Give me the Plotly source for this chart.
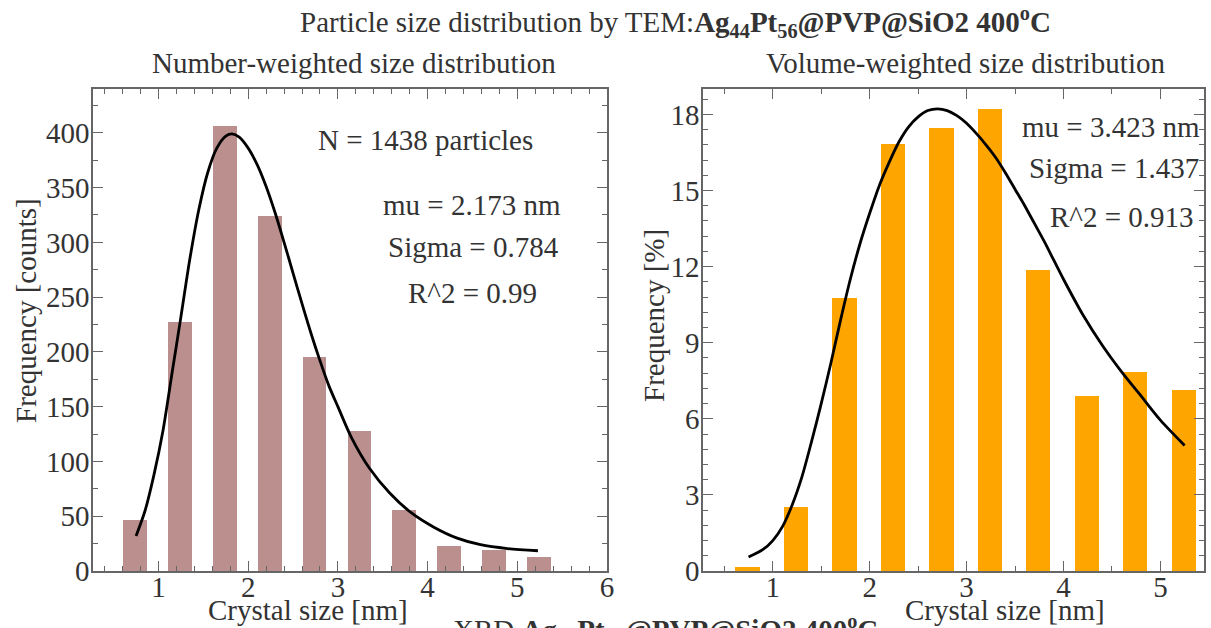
import plotly.graph_objects as go

W, H = 1211, 628

# ---------------- data ----------------
bin_centers = [0.74, 1.24, 1.74, 2.24, 2.74, 3.24, 3.74, 4.24, 4.74, 5.24]
counts = [47, 227, 406, 324, 195, 128, 56, 23, 19, 13]
volume_pct = [0.17, 2.53, 10.76, 16.82, 17.47, 18.22, 11.88, 6.9, 7.85, 7.12]

fit_num_x = [0.75, 0.85, 0.95, 1.05, 1.15, 1.25, 1.35, 1.45, 1.55, 1.65, 1.75, 1.82,
             1.90, 2.00, 2.10, 2.20, 2.30, 2.40, 2.50, 2.60, 2.70, 2.80, 2.90, 3.00,
             3.15, 3.35, 3.58, 3.82, 4.07, 4.33, 4.59, 4.89, 5.23]
fit_num_y = [32, 55, 88, 128, 180, 232, 285, 330, 364, 386, 397, 399,
             396, 386, 371, 351, 327, 300, 272, 244, 217, 192, 169, 150,
             122, 94, 71, 53, 40, 30, 24, 20.5, 18.5]

fit_vol_x = [0.75, 0.90, 1.00, 1.10, 1.20, 1.30, 1.40, 1.50, 1.60, 1.70, 1.80, 1.90,
             2.00, 2.10, 2.20, 2.30, 2.40, 2.50, 2.60, 2.70, 2.80, 2.90, 3.00, 3.10,
             3.20, 3.30, 3.40, 3.50, 3.60, 3.70, 3.80, 3.90, 4.00, 4.20, 4.40, 4.60,
             4.80, 5.00, 5.25]
fit_vol_y = [0.55, 0.85, 1.2, 1.75, 2.6, 3.7, 5.1, 6.6, 8.2, 9.9, 11.5, 12.9,
             14.1, 15.2, 16.1, 16.9, 17.5, 17.9, 18.15, 18.22, 18.15, 17.95, 17.65, 17.25,
             16.8, 16.3, 15.7, 15.05, 14.4, 13.7, 13.0, 12.25, 11.5, 10.1, 8.9, 7.85,
             6.9, 5.95, 4.95]

left_yticks = [0, 50, 100, 150, 200, 250, 300, 350, 400]
right_yticks = [0, 3, 6, 9, 12, 15, 18]
left_xticks = [1, 2, 3, 4, 5, 6]
right_xticks = [1, 2, 3, 4, 5]

FONT = "Liberation Serif"
FS = 29
TXT = "#333333"
AX = "#666666"

def px(x):
    return x / W

def py(y):
    return 1 - y / H

fig = go.Figure()
fig.add_trace(go.Bar(x=bin_centers, y=counts, width=0.265, marker=dict(color="#BC8F8F", line=dict(width=0)),
                     xaxis="x", yaxis="y", showlegend=False))
fig.add_trace(go.Scatter(x=fit_num_x, y=fit_num_y, mode="lines",
                         line=dict(color="black", width=2.8, shape="spline", smoothing=0.8),
                         xaxis="x", yaxis="y", showlegend=False))
fig.add_trace(go.Bar(x=bin_centers, y=volume_pct, width=0.25, marker=dict(color="#FFA500", line=dict(width=0)),
                     xaxis="x2", yaxis="y2", showlegend=False))
fig.add_trace(go.Scatter(x=fit_vol_x, y=fit_vol_y, mode="lines",
                         line=dict(color="black", width=2.8, shape="spline", smoothing=0.8),
                         xaxis="x2", yaxis="y2", showlegend=False))

def axis(domain, rng, tickvals, minor_dtick, anchor, standoff):
    return dict(domain=domain, range=rng, tickvals=tickvals, ticks="inside", ticklen=10, tickwidth=1.2,
                tickcolor=AX, showline=True, linecolor=AX, linewidth=1.5, mirror="ticks",
                showgrid=False, zeroline=False, anchor=anchor, ticklabelstandoff=standoff,
                automargin=False,
                tickfont=dict(family=FONT, size=FS, color=TXT),
                minor=dict(dtick=minor_dtick, ticks="inside", ticklen=5, tickcolor=AX, tickwidth=1, showgrid=False))

yb, yt = py(571), py(89)
fig.update_layout(
    width=W, height=H, margin=dict(l=0, r=0, t=0, b=0, autoexpand=False),
    paper_bgcolor="white", plot_bgcolor="white", bargap=0,
    xaxis=axis([px(93), px(607)], [0.27, 6.0], left_xticks, 0.2, "y", -11),
    yaxis=axis([yb, yt], [0, 440], left_yticks, 25, "x", -4),
    xaxis2=axis([px(703), px(1204)], [0.28, 5.45], right_xticks, 0.5, "y2", -11),
    yaxis2=axis([yb, yt], [0, 19], right_yticks, 0.6, "x2", -4),
)

ann = []
def add(text, x, y, size=FS, angle=0):
    ann.append(dict(text=text, x=px(x), y=py(y), xref="paper", yref="paper", showarrow=False,
                    xanchor="center", yanchor="middle", textangle=angle,
                    font=dict(family=FONT, size=size, color=TXT)))

add("Particle size distribution by TEM:<b>Ag<sub>44</sub>Pt<sub>56</sub>@PVP@SiO2 400<sup>o</sup>C</b>", 675, 22)
add("Number-weighted size distribution", 354, 63)
add("Volume-weighted size distribution", 965, 63)
add("Crystal size [nm]", 308, 610)
add("Crystal size [nm]", 1005, 610)
add("Frequency [counts]", 26, 311, angle=-90)
add("Frequency [%]", 654, 316, angle=-90)
add("N = 1438 particles", 425, 140)
add("mu = 2.173 nm", 472, 205)
add("Sigma = 0.784", 473, 247)
add("R^2 = 0.99", 472, 293)
add("mu = 3.423 nm", 1111, 127)
add("Sigma = 1.437", 1114, 168)
add("R^2 = 0.913", 1122, 217)
add("XRD <b>Ag<sub>44</sub>Pt<sub>56</sub>@PVP@SiO2 400<sup>o</sup>C</b>", 665, 630)
fig.update_layout(annotations=ann)

fig.write_html("out.html")
